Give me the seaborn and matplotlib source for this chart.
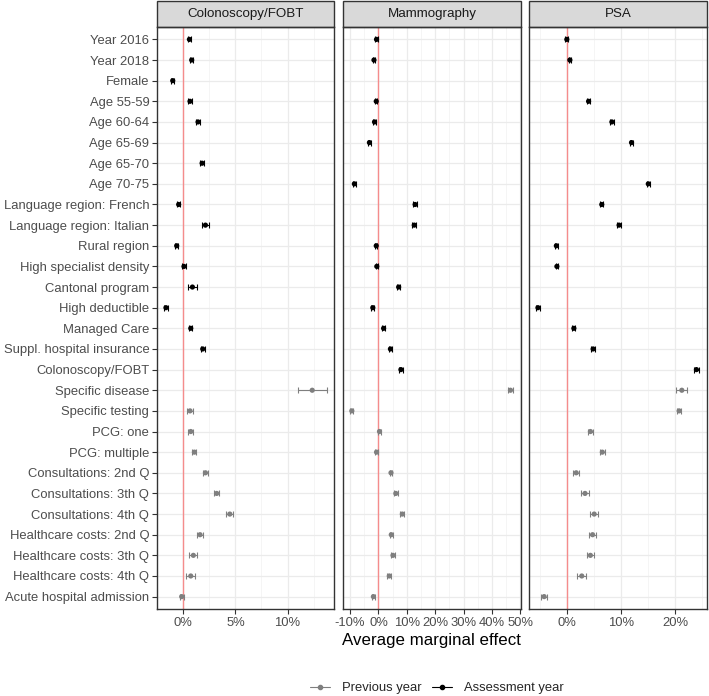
import numpy as np
import pandas as pd
import matplotlib
matplotlib.use("Agg")
import matplotlib.pyplot as plt
from matplotlib.patches import Rectangle
from matplotlib.lines import Line2D
from matplotlib.ticker import FuncFormatter, MultipleLocator
import seaborn as sns

categories = [
    "Year 2016", "Year 2018", "Female", "Age 55-59", "Age 60-64", "Age 65-69",
    "Age 65-70", "Age 70-75", "Language region: French", "Language region: Italian",
    "Rural region", "High specialist density", "Cantonal program", "High deductible",
    "Managed Care", "Suppl. hospital insurance", "Colonoscopy/FOBT", "Specific disease",
    "Specific testing", "PCG: one", "PCG: multiple", "Consultations: 2nd Q",
    "Consultations: 3th Q", "Consultations: 4th Q", "Healthcare costs: 2nd Q",
    "Healthcare costs: 3th Q", "Healthcare costs: 4th Q", "Acute hospital admission",
]
period = ["Assessment year"] * 17 + ["Previous year"] * 11

panels = ["Colonoscopy/FOBT", "Mammography", "PSA"]
nan = np.nan

colo_ame = [0.58, 0.80, -1.02, 0.64, 1.41, nan, 1.80, nan, -0.45, 2.12, -0.64, 0.06,
            0.87, -1.67, 0.71, 1.86, nan, 12.37, 0.64, 0.71, 1.06, 2.12, 3.20, 4.46,
            1.60, 0.96, 0.71, -0.16]
colo_hw = [0.15, 0.15, 0.15, 0.15, 0.18, nan, 0.18, nan, 0.15, 0.30, 0.15, 0.15,
           0.45, 0.15, 0.15, 0.20, nan, 1.40, 0.26, 0.25, 0.20, 0.25, 0.25, 0.32,
           0.30, 0.38, 0.45, 0.20]

mammo_ame = [-0.7, -1.6, nan, -0.8, -1.4, -3.2, nan, -8.5, 12.9, 12.6, -0.8, -0.6,
             7.1, -2.0, 1.8, 4.2, 7.9, 46.5, -9.4, 0.35, -0.7, 4.4, 6.1, 8.4,
             4.5, 5.1, 3.8, -1.8]
mammo_hw = [0.4, 0.4, nan, 0.4, 0.5, 0.5, nan, 0.5, 0.6, 0.7, 0.4, 0.4,
            0.5, 0.5, 0.5, 0.5, 0.8, 0.9, 0.5, 0.5, 0.5, 0.5, 0.6, 0.7,
            0.6, 0.7, 0.7, 0.6]

psa_ame = [-0.06, 0.50, nan, 3.96, 8.27, 11.9, nan, 15.0, 6.4, 9.6, -2.0, -1.9,
           nan, -5.4, 1.24, 4.8, 23.9, 21.2, 20.7, 4.3, 6.5, 1.67, 3.3, 5.0,
           4.7, 4.3, 2.7, -4.26]
psa_hw = [0.25, 0.25, nan, 0.3, 0.3, 0.3, nan, 0.3, 0.3, 0.4, 0.25, 0.25,
          nan, 0.3, 0.3, 0.3, 0.45, 1.0, 0.4, 0.45, 0.45, 0.6, 0.65, 0.75,
          0.7, 0.7, 0.85, 0.5]

xlims = {"Colonoscopy/FOBT": (-2.53, 14.5), "Mammography": (-12.4, 50.1), "PSA": (-7.0, 25.8)}
majors = {"Colonoscopy/FOBT": 5, "Mammography": 10, "PSA": 10}

frames = []
for name, ame, hw in [("Colonoscopy/FOBT", colo_ame, colo_hw),
                      ("Mammography", mammo_ame, mammo_hw),
                      ("PSA", psa_ame, psa_hw)]:
    frames.append(pd.DataFrame({"panel": name, "category": categories,
                                "pos": np.arange(len(categories)),
                                "period": period, "ame": ame, "hw": hw}))
df = pd.concat(frames, ignore_index=True).dropna(subset=["ame"])

sns.set_theme(style="white")
plt.rcParams["font.family"] = ["Liberation Sans", "DejaVu Sans"]

colors = {"Previous year": "#7F7F7F", "Assessment year": "#000000"}

fig = plt.figure(figsize=(7.09, 6.96), dpi=100)
W, H = 709, 696
lefts = [157, 343.3, 529.3]
width = 177.4
top_px, bot_px = 27, 609

axes = []
for i, name in enumerate(panels):
    ax = fig.add_axes([lefts[i] / W, 1 - bot_px / H, width / W, (bot_px - top_px) / H])
    axes.append(ax)
    sub = df[df.panel == name]
    ax.set_facecolor("white")
    ax.set_xlim(*xlims[name])
    ax.set_ylim(len(categories) - 0.4, -0.6)
    m = majors[name]
    ax.xaxis.set_major_locator(MultipleLocator(m))
    ax.xaxis.set_minor_locator(MultipleLocator(m / 2))
    ax.grid(True, which="major", axis="both", color="#EBEBEB", lw=0.9, zorder=0)
    ax.grid(True, which="minor", axis="x", color="#F2F2F2", lw=0.5, zorder=0)
    ax.set_axisbelow(True)
    ax.axvline(0, color="#F58C8C", lw=1.0, zorder=1)
    for per in ["Previous year", "Assessment year"]:
        s = sub[sub.period == per]
        if len(s) == 0:
            continue
        ax.errorbar(s.ame, s.pos, xerr=s.hw, fmt="none", ecolor=colors[per],
                    elinewidth=0.8, capsize=2.2, capthick=0.8, zorder=2)
    sns.scatterplot(data=sub, x="ame", y="pos", hue="period", palette=colors,
                    s=14, edgecolor=None, linewidth=0, legend=False, ax=ax, zorder=3)
    ax.set_ylim(len(categories) - 0.4, -0.6)
    ax.set_xlim(*xlims[name])
    ax.set_xlabel("")
    ax.set_ylabel("")
    ax.set_yticks(np.arange(len(categories)))
    if i == 0:
        ax.set_yticklabels(categories)
    else:
        ax.set_yticklabels([])
        ax.tick_params(axis="y", length=0)
    ax.xaxis.set_major_formatter(FuncFormatter(lambda v, p: f"{v:.0f}%"))
    ax.tick_params(axis="both", which="major", labelsize=9.4, colors="#333333",
                   labelcolor="#4D4D4D", length=3.5, width=0.8, pad=2,
                   bottom=True, left=(i == 0))
    ax.tick_params(axis="x", which="minor", length=0)
    for sp in ax.spines.values():
        sp.set_color("#333333")
        sp.set_linewidth(1.0)
        sp.set_visible(True)
    hstrip = 26 / (bot_px - top_px)
    ax.add_patch(Rectangle((0, 1), 1, hstrip, transform=ax.transAxes, clip_on=False,
                           facecolor="#D9D9D9", edgecolor="#333333", lw=1.0))
    ax.text(0.5, 1 + hstrip / 2, name, transform=ax.transAxes, ha="center",
            va="center", fontsize=9.6, color="#1A1A1A")

fig.text(431.5 / W, 1 - 641 / H, "Average marginal effect",
         ha="center", va="center", fontsize=12.2, color="black")

handles = [Line2D([0], [0], color=colors["Previous year"], lw=0.8, marker="o", markersize=3.0),
           Line2D([0], [0], color=colors["Assessment year"], lw=0.8, marker="o", markersize=3.0)]
fig.legend(handles, ["Previous year", "Assessment year"], loc="center",
           bbox_to_anchor=(437 / W, 1 - 688 / H), ncol=2, frameon=False,
           fontsize=9.4, handlelength=1.5, columnspacing=0.85, handletextpad=0.9,
           borderpad=0.2)

fig.savefig("out.png", dpi=100)
